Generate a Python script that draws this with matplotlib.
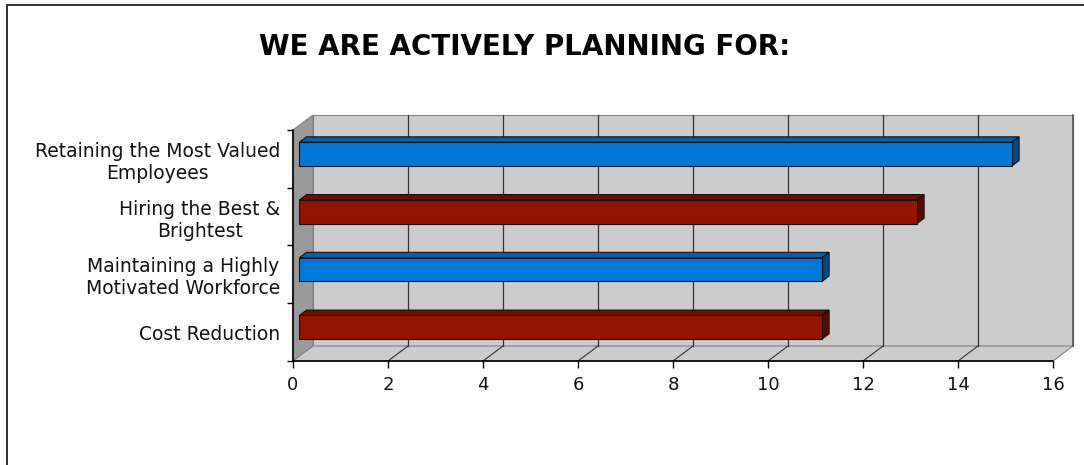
import matplotlib.pyplot as plt
from matplotlib.patches import Polygon, Rectangle

# data (bottom to top, as drawn)
categories = ['Cost Reduction',
              'Maintaining a Highly\nMotivated Workforce',
              'Hiring the Best &\nBrightest',
              'Retaining the Most Valued\nEmployees']
values = [11, 11, 13, 15]
series_colors = ['red', 'blue', 'red', 'blue']
xticks = [0, 2, 4, 6, 8, 10, 12, 14, 16]

shades = {
    'blue': ('#0078d7', '#0062b0', '#004a85'),
    'red': ('#931500', '#6e0f00', '#560a00'),
}

W, H = 1084, 465
fig = plt.figure(figsize=(W / 100, H / 100), dpi=100)

# outer frame
fig.patches.append(Rectangle((7 / W, -0.05), 1.1, 1 - 5 / H + 0.05, transform=fig.transFigure,
                             fill=False, edgecolor='#222222', linewidth=1.3))

fig.text(525 / W, 1 - 47 / H, 'WE ARE ACTIVELY PLANNING FOR:', ha='center', va='center',
         fontsize=20, fontweight='bold', family='DejaVu Sans')

left, right, bottom, top = 293, 1053, 361, 130
ax = fig.add_axes([left / W, 1 - bottom / H, (right - left) / W, (bottom - top) / H])
ax.set_xlim(0, 16)
ax.set_ylim(0, 4)
for s in ax.spines.values():
    s.set_visible(False)
ax.patch.set_visible(False)

# depth of the 3d box in data units
DX = 20 / 47.5
DY = 15 / 57.75
xmax = 16
ymax = 4

def poly(pts, fc, ec='#808080', lw=0.8, z=1):
    ax.add_patch(Polygon(pts, closed=True, facecolor=fc, edgecolor=ec, linewidth=lw,
                         zorder=z, clip_on=False))

# back wall
poly([(DX, DY), (xmax + DX, DY), (xmax + DX, ymax + DY), (DX, ymax + DY)], '#cccccc', z=1)
# left wall
poly([(0, 0), (DX, DY), (DX, ymax + DY), (0, ymax)], '#9a9a9a', z=1)
# floor
poly([(0, 0), (xmax, 0), (xmax + DX, DY), (DX, DY)], '#cccccc', z=1)

# gridlines on back wall and floor
for t in xticks[1:-1]:
    ax.plot([t + DX, t + DX], [DY, ymax + DY], color='#333333', lw=0.9, zorder=2, clip_on=False)
    ax.plot([t, t + DX], [0, DY], color='#333333', lw=0.8, zorder=2, clip_on=False)
ax.plot([xmax + DX, xmax + DX], [DY, ymax + DY], color='#555555', lw=1.2, zorder=2, clip_on=False)

# axis lines
ax.plot([0, xmax], [0, 0], color='black', lw=1.2, zorder=3, clip_on=False)
ax.plot([0, 0], [0, ymax], color='black', lw=1.2, zorder=3, clip_on=False)

# bars
f0, f1 = 0.32, 0.36
bh = 0.41
for i, (v, c) in enumerate(zip(values, series_colors)):
    front, topc, side = shades[c]
    ox, oy = DX * f0, DY * f0
    dx, dy = DX * f1, DY * f1
    x0, x1 = ox, v + ox
    yb = i + 0.5 - bh / 2 + oy
    yt = yb + bh
    poly([(x0, yt), (x1, yt), (x1 + dx, yt + dy), (x0 + dx, yt + dy)], topc, ec='#111111', lw=0.8, z=4)
    poly([(x1, yb), (x1, yt), (x1 + dx, yt + dy), (x1 + dx, yb + dy)], side, ec='#111111', lw=0.8, z=4)
    poly([(x0, yb), (x1, yb), (x1, yt), (x0, yt)], front, ec='#111111', lw=0.8, z=5)

ax.set_xticks(xticks)
ax.set_xticklabels([str(t) for t in xticks], fontsize=13, color='#111111')
ax.tick_params(axis='x', length=5, width=1, color='black', pad=6)
ax.set_yticks([i + 0.5 for i in range(len(categories))])
ax.set_yticklabels(categories, fontsize=13.5, ha='right', multialignment='center', color='#111111')
ax.tick_params(axis='y', length=0, pad=9)
ax.set_yticks(range(len(categories) + 1), minor=True)
ax.tick_params(axis='y', which='minor', length=4, width=1, color='black')

fig.savefig('out.png', dpi=100)
